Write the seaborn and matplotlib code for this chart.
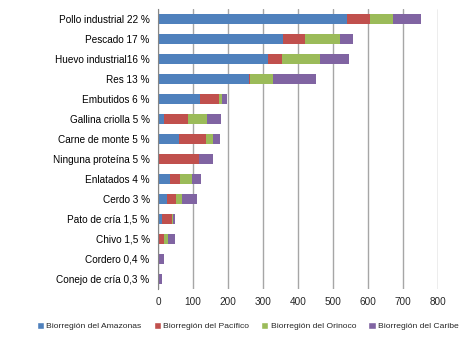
import numpy as np
import pandas as pd
import matplotlib
matplotlib.use("Agg")
import matplotlib.pyplot as plt
import seaborn as sns
from matplotlib.patches import Patch

#------------------------------------------------------------
# Datos
#------------------------------------------------------------
categorias = ["Pollo industrial 22 %", "Pescado 17 %", "Huevo industrial16 %", "Res 13 %",
              "Embutidos 6 %", "Gallina criolla 5 %", "Carne de monte 5 %",
              "Ninguna proteína 5 %", "Enlatados 4 %", "Cerdo 3 %", "Pato de cría 1,5 %",
              "Chivo 1,5 %", "Cordero 0,4 %", "Conejo de cría 0,3 %"]

amazonas = [540, 358, 315, 259, 121, 17, 61, 0, 35, 25, 10, 1, 2, 0]
pacifico = [65, 63, 40, 3, 54, 69, 77, 117, 29, 27, 29, 15, 0, 2]
orinoco = [67, 98, 107, 65, 9, 53, 18, 0, 34, 15, 3, 13, 0, 0]
caribe = [78, 38, 83, 123, 14, 42, 22, 41, 26, 45, 6, 19, 15, 8]

series = ["Biorregión del Amazonas", "Biorregión del Pacífico",
          "Biorregión del Orinoco", "Biorregión del Caribe"]
colores = ["#4F81BD", "#C0504D", "#9BBB59", "#8064A2"]
ticks_x = [0, 100, 200, 300, 400, 500, 600, 700, 800]

df = pd.DataFrame({"categoria": categorias,
                   series[0]: amazonas, series[1]: pacifico,
                   series[2]: orinoco, series[3]: caribe})
acum = df[series].cumsum(axis=1)
acum["categoria"] = df["categoria"]

#------------------------------------------------------------
# Grafico
#------------------------------------------------------------
sns.set_style("white")
plt.rcParams["font.family"] = ["Liberation Sans", "DejaVu Sans"]

fig = plt.figure(figsize=(4.69, 3.44), dpi=100)
ax = fig.add_axes([0.337, 0.160, 0.597, 0.814])

# barras apiladas: se dibuja de la suma total hacia atras
for serie, color in reversed(list(zip(series, colores))):
    sns.barplot(data=acum, x=serie, y="categoria", color=color, orient="h",
                width=0.46, ax=ax, saturation=1, linewidth=0)

ax.set_xlim(0, 800)
ax.set_ylim(13.5, -0.5)
ax.set_xticks(ticks_x)
ax.grid(axis="x", color="#A6A6A6", linewidth=1)
ax.set_axisbelow(True)
ax.set_xlabel("")
ax.set_ylabel("")

for s in ["top", "right", "bottom"]:
    ax.spines[s].set_visible(False)
ax.spines["left"].set_color("#868686")
ax.spines["left"].set_linewidth(0.8)

ax.set_yticks(np.arange(-0.5, 14, 1), minor=True)
ax.tick_params(axis="y", which="major", length=0, pad=6, labelsize=7.2, colors="#000000")
ax.tick_params(axis="y", which="minor", length=4, color="#868686", width=0.8)
ax.tick_params(axis="x", length=0, pad=6, labelsize=7.2)

handles = [Patch(facecolor=c, label=s) for s, c in zip(series, colores)]
fig.legend(handles=handles, loc="center", bbox_to_anchor=(0.528, 0.052), ncol=4,
           frameon=False, fontsize=6.1, handlelength=0.85, handleheight=0.85,
           handletextpad=0.25, columnspacing=1.45, borderpad=0, borderaxespad=0)

plt.savefig("out.png", dpi=100)
